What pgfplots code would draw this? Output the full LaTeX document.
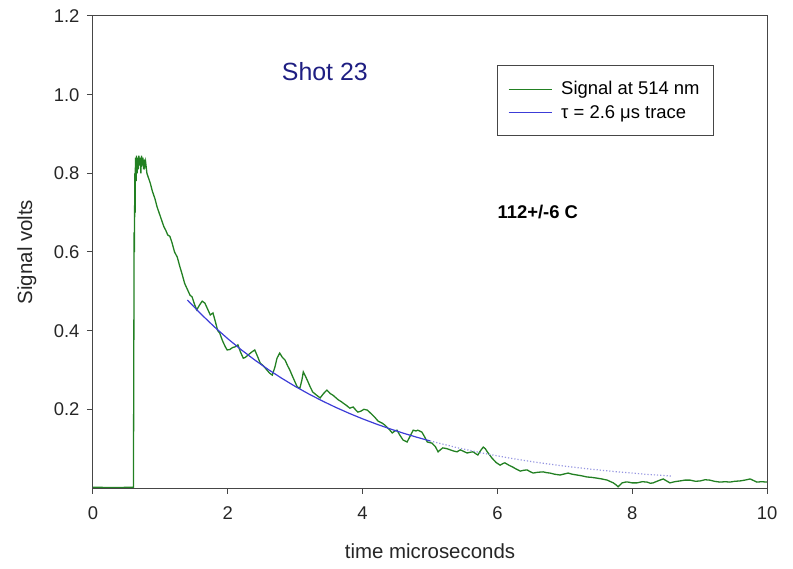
\documentclass[border=0pt]{standalone}
\usepackage{pgfplots}
\usepackage{pgfplotstable}
\pgfplotsset{compat=1.18}
\usepackage{fontspec}
\setmainfont{Liberation Sans}

\definecolor{sig}{RGB}{34,128,34}
\definecolor{fit}{RGB}{60,60,215}
\definecolor{fitdot}{RGB}{150,150,225}
\definecolor{shot}{RGB}{30,30,130}
\definecolor{frame}{RGB}{70,70,70}

% signal at 514 nm
\pgfplotstableread{
x y
0 0.002
0.3 0.001
0.6 0.002
0.605 0.3
0.61 0.65
0.615 0.60
0.62 0.80
0.625 0.70
0.63 0.84
0.64 0.78
0.645 0.845
0.655 0.80
0.66 0.84
0.67 0.81
0.68 0.845
0.69 0.82
0.70 0.84
0.71 0.80
0.72 0.845
0.73 0.82
0.74 0.84
0.75 0.81
0.76 0.835
0.77 0.82
0.78 0.83
0.80 0.80
0.82 0.79
0.85 0.775
0.88 0.755
0.92 0.735
0.95 0.715
0.98 0.70
1.02 0.68
1.05 0.665
1.08 0.655
1.11 0.643
1.14 0.64
1.17 0.625
1.21 0.60
1.25 0.587
1.29 0.562
1.32 0.545
1.36 0.52
1.40 0.505
1.44 0.49
1.47 0.486
1.51 0.465
1.54 0.453
1.58 0.465
1.62 0.475
1.66 0.47
1.70 0.455
1.74 0.44
1.78 0.445
1.82 0.42
1.85 0.40
1.88 0.394
1.92 0.375
1.96 0.36
1.99 0.351
2.03 0.352
2.07 0.357
2.11 0.359
2.15 0.364
2.19 0.345
2.23 0.33
2.26 0.332
2.30 0.338
2.35 0.345
2.40 0.351
2.44 0.335
2.48 0.318
2.53 0.31
2.58 0.30
2.62 0.292
2.66 0.287
2.70 0.308
2.73 0.33
2.77 0.343
2.81 0.332
2.85 0.325
2.89 0.31
2.92 0.30
2.97 0.28
3.03 0.257
3.07 0.254
3.10 0.275
3.12 0.295
3.15 0.285
3.19 0.27
3.22 0.258
3.26 0.244
3.31 0.237
3.37 0.229
3.42 0.24
3.47 0.249
3.52 0.24
3.56 0.236
3.60 0.23
3.64 0.224
3.68 0.22
3.71 0.216
3.76 0.21
3.81 0.203
3.86 0.206
3.90 0.198
3.93 0.193
3.97 0.195
4.02 0.2
4.07 0.198
4.12 0.19
4.18 0.18
4.23 0.17
4.29 0.165
4.33 0.16
4.36 0.155
4.40 0.148
4.44 0.14
4.48 0.145
4.51 0.147
4.55 0.135
4.60 0.122
4.66 0.117
4.70 0.13
4.75 0.147
4.79 0.145
4.82 0.147
4.88 0.142
4.92 0.13
4.96 0.117
5.03 0.114
5.08 0.105
5.12 0.092
5.16 0.098
5.19 0.102
5.25 0.1
5.30 0.097
5.35 0.094
5.40 0.092
5.45 0.097
5.50 0.093
5.55 0.089
5.60 0.091
5.64 0.092
5.68 0.087
5.71 0.084
5.75 0.095
5.79 0.104
5.82 0.1
5.85 0.092
5.88 0.085
5.92 0.076
5.98 0.065
6.04 0.058
6.08 0.062
6.11 0.064
6.17 0.058
6.23 0.053
6.28 0.048
6.34 0.043
6.39 0.045
6.44 0.046
6.48 0.042
6.53 0.038
6.60 0.04
6.68 0.041
6.73 0.039
6.78 0.038
6.85 0.035
6.93 0.033
7.00 0.036
7.05 0.038
7.11 0.035
7.18 0.033
7.25 0.031
7.33 0.028
7.40 0.027
7.48 0.025
7.55 0.023
7.63 0.02
7.68 0.016
7.72 0.013
7.76 0.008
7.79 0.003
7.82 0.008
7.85 0.013
7.90 0.015
7.94 0.015
8.00 0.013
8.07 0.013
8.15 0.016
8.22 0.015
8.27 0.012
8.31 0.013
8.38 0.018
8.46 0.023
8.51 0.018
8.56 0.013
8.63 0.016
8.71 0.018
8.78 0.02
8.86 0.02
8.94 0.017
9.01 0.018
9.08 0.021
9.15 0.02
9.22 0.017
9.30 0.015
9.38 0.016
9.45 0.015
9.52 0.017
9.60 0.018
9.67 0.02
9.75 0.023
9.80 0.019
9.85 0.015
9.92 0.016
10.0 0.015
}\signal

% tau = 2.6 us fit, solid part
\pgfplotstableread{
x y
1.4 0.478
1.6 0.4426
1.8 0.4098
2.0 0.3795
2.2 0.3514
2.4 0.3254
2.6 0.3013
2.8 0.2790
3.0 0.2583
3.2 0.2392
3.4 0.2215
3.6 0.2051
3.8 0.1899
4.0 0.1758
4.2 0.1628
4.4 0.1508
4.6 0.1396
4.8 0.1293
5.0 0.1197
}\fitsolid

% dotted continuation
\pgfplotstableread{
x y
5.0 0.1197
5.4 0.1026
5.8 0.0880
6.2 0.0755
6.6 0.0647
7.0 0.0555
7.4 0.0476
7.8 0.0408
8.2 0.0350
8.6 0.0300
}\fitdotted

\begin{document}
\begin{tikzpicture}
\begin{axis}[
  scale only axis,
  width=674bp, height=472bp,
  xmin=0, xmax=10, ymin=0, ymax=1.2,
  axis on top,
  xtick={0,2,4,6,8,10},
  ytick={0.2,0.4,0.6,0.8,1.0,1.2},
  /pgf/number format/assume math mode=true,
  tick align=outside, tick pos=left,
  major tick length=6bp,
  axis line style={frame, line width=1bp},
  every tick/.style={frame, line width=1bp},
  tick label style={font=\fontsize{18.5}{21}\selectfont, text=black!85},
  xticklabel style={yshift=-9bp},
  yticklabel style={xshift=-4bp, /pgf/number format/.cd, fixed, fixed zerofill, precision=1},
  label style={font=\fontsize{20.5}{24}\selectfont, text=black!85},
  xlabel={time microseconds},
  ylabel={Signal volts},
  x label style={at={(axis description cs:0.5,-0.133)}, anchor=center},
  y label style={at={(axis description cs:-0.098,0.5)}, anchor=center},
  legend style={at={(rel axis cs:0.599,0.896)}, anchor=north west,
    draw=frame, line width=1bp, font=\fontsize{18.5}{21}\selectfont,
    inner xsep=11bp, inner ysep=14bp, row sep=5bp,
    nodes={inner xsep=3bp, inner ysep=2bp},
    /tikz/every odd column/.append style={column sep=6bp}},
  legend cell align=left,
  legend image code/.code={\draw[#1, line width=1bp] (0bp,0bp) -- (43bp,0bp);},
]
\addplot[sig, line width=1.3bp] table[x=x,y=y] {\signal};
\addlegendentry{Signal at 514 nm}
\addplot[fit, line width=1.2bp] table[x=x,y=y] {\fitsolid};
\addlegendentry{τ = 2.6 μs trace}
\addplot[fitdot, line width=1.2bp, dotted, forget plot] table[x=x,y=y] {\fitdotted};

\node[text=shot, font=\fontsize{25}{28}\selectfont] at (axis cs:3.44,1.058) {Shot 23};
\node[font=\bfseries\fontsize{18.5}{21}\selectfont] at (axis cs:6.60,0.702) {112+/-6 C};

\coordinate (sw) at (rel axis cs:0,0);
\coordinate (ne) at (rel axis cs:1,1);
\end{axis}
\pgfresetboundingbox
\path[use as bounding box] ([xshift=-93bp,yshift=-81bp]sw) rectangle ([xshift=26bp,yshift=16bp]ne);
\end{tikzpicture}
\end{document}
